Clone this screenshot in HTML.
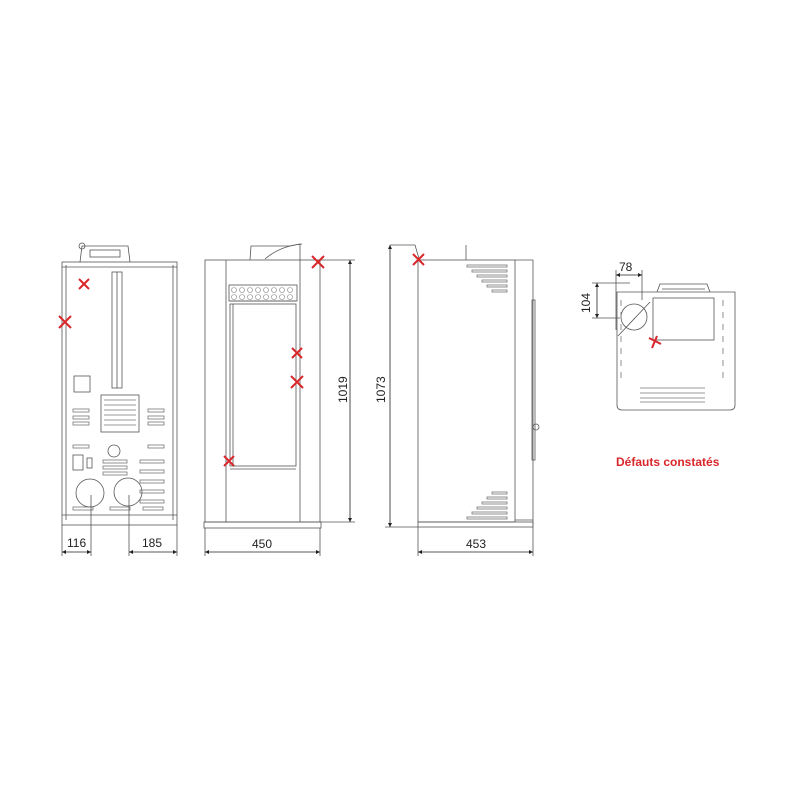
<!DOCTYPE html>
<html><head><meta charset="utf-8"><style>
html,body{margin:0;padding:0;background:#fff;width:800px;height:800px;overflow:hidden}
svg{display:block}
text{font-family:"Liberation Sans",sans-serif;fill:#222}
</style></head><body>
<svg width="800" height="800" viewBox="0 0 800 800" xmlns="http://www.w3.org/2000/svg">
<defs>
<marker id="a" viewBox="0 0 10 10" refX="10" refY="5" markerWidth="7" markerHeight="5" orient="auto-start-reverse"><path d="M0,0L10,5L0,10z" fill="#222"/></marker>
</defs>
<g stroke="#555" stroke-width="0.8" fill="none">
<rect x="62" y="262" width="115" height="263"/>
<line x1="66" y1="265" x2="66" y2="520"/><line x1="173" y1="265" x2="173" y2="520"/>
<line x1="62" y1="267" x2="177" y2="267"/>
<line x1="62" y1="515" x2="177" y2="515"/>
<path d="M80,262 L82,246 L128,246 L130,262"/><rect x="90" y="250" width="30" height="7"/>
<circle cx="82" cy="246" r="3"/>
<rect x="112" y="272" width="10" height="116"/><line x1="117" y1="272" x2="117" y2="388"/>
<rect x="74" y="376" width="16" height="16"/>
<rect x="101" y="395" width="38" height="37"/>
<g stroke="#777"><line x1="104" y1="400" x2="136" y2="400"/><line x1="104" y1="405" x2="136" y2="405"/><line x1="104" y1="410" x2="136" y2="410"/><line x1="104" y1="415" x2="136" y2="415"/><line x1="104" y1="420" x2="136" y2="420"/><line x1="104" y1="425" x2="136" y2="425"/>
<rect x="73" y="409" width="16" height="3"/><rect x="73" y="416" width="16" height="3"/><rect x="73" y="422" width="16" height="3"/>
<rect x="148" y="409" width="16" height="3"/><rect x="148" y="416" width="16" height="3"/><rect x="148" y="422" width="16" height="3"/>
<rect x="73" y="445" width="16" height="3"/><rect x="148" y="445" width="16" height="3"/>
<rect x="103" y="460" width="24" height="3"/><rect x="103" y="466" width="24" height="3"/><rect x="103" y="472" width="24" height="3"/>
<rect x="140" y="460" width="24" height="3"/><rect x="140" y="470" width="24" height="3"/><rect x="140" y="480" width="24" height="3"/><rect x="140" y="490" width="24" height="3"/><rect x="140" y="500" width="24" height="3"/>
<rect x="73" y="507" width="20" height="3"/><rect x="110" y="507" width="20" height="3"/><rect x="143" y="507" width="20" height="3"/>
</g>
<circle cx="114" cy="451" r="6"/>
<rect x="73" y="455" width="10" height="15"/><rect x="87" y="458" width="5" height="10"/>
<circle cx="90" cy="493" r="14"/><circle cx="128" cy="492" r="14"/>
<line x1="62" y1="525" x2="62" y2="556"/><line x1="91" y1="495" x2="91" y2="556"/>
<line x1="129" y1="495" x2="129" y2="556"/><line x1="177" y1="525" x2="177" y2="556"/>
<rect x="205" y="260" width="115" height="262"/>
<line x1="226" y1="260" x2="226" y2="522"/><line x1="300" y1="260" x2="300" y2="522"/>
<rect x="204" y="522" width="117" height="6"/>
<path d="M250,260 L251,246 L290,246 L300,244 L300,260"/><path d="M265,259 Q280,246 302,244"/>
<rect x="229" y="285" width="68" height="16"/>
<g stroke="#888" stroke-width="0.6">
<circle cx="234" cy="290" r="2.5"/><circle cx="242" cy="290" r="2.5"/><circle cx="250" cy="290" r="2.5"/><circle cx="258" cy="290" r="2.5"/><circle cx="266" cy="290" r="2.5"/><circle cx="274" cy="290" r="2.5"/><circle cx="282" cy="290" r="2.5"/><circle cx="290" cy="290" r="2.5"/>
<circle cx="234" cy="297" r="2.5"/><circle cx="242" cy="297" r="2.5"/><circle cx="250" cy="297" r="2.5"/><circle cx="258" cy="297" r="2.5"/><circle cx="266" cy="297" r="2.5"/><circle cx="274" cy="297" r="2.5"/><circle cx="282" cy="297" r="2.5"/><circle cx="290" cy="297" r="2.5"/>
</g>
<rect x="230" y="304" width="66" height="162"/><line x1="230" y1="301" x2="296" y2="301"/><line x1="233" y1="304" x2="233" y2="466"/>
<line x1="230" y1="469" x2="296" y2="469"/>
<line x1="320" y1="260" x2="355" y2="260"/><line x1="320" y1="522" x2="355" y2="522"/>
<line x1="205" y1="528" x2="205" y2="556"/><line x1="320" y1="528" x2="320" y2="556"/>
<rect x="418" y="260" width="97" height="262"/>
<line x1="515" y1="260" x2="533" y2="260"/><line x1="515" y1="520" x2="533" y2="520"/>
<line x1="533" y1="260" x2="533" y2="526"/>
<rect x="532" y="300" width="3" height="160"/><circle cx="536" cy="427" r="3"/>
<rect x="418" y="522" width="115" height="5"/>
<line x1="466" y1="245" x2="466" y2="260"/>
<path d="M390,245 L415,245 L420,262"/>
<g stroke="#777"><rect x="467" y="265" width="40" height="2"/><rect x="472" y="270" width="35" height="2"/><rect x="477" y="275" width="30" height="2"/><rect x="482" y="280" width="25" height="2"/><rect x="487" y="285" width="20" height="2"/><rect x="492" y="290" width="15" height="2"/>
<rect x="492" y="492" width="15" height="2"/><rect x="487" y="497" width="20" height="2"/><rect x="482" y="502" width="25" height="2"/><rect x="477" y="507" width="30" height="2"/><rect x="472" y="512" width="35" height="2"/><rect x="467" y="517" width="40" height="2"/></g>
<line x1="385" y1="527" x2="418" y2="527"/>
<line x1="418" y1="527" x2="418" y2="556"/><line x1="533" y1="527" x2="533" y2="556"/>
<path d="M617,292 L735,292 L735,405 Q735,410 730,410 L622,410 Q617,410 617,405 Z"/>
<path d="M657,292 L660,284 L707,284 L710,292"/><line x1="662" y1="289" x2="705" y2="289"/>
<rect x="653" y="298" width="61" height="42"/>
<circle cx="634" cy="317" r="13"/>
<line x1="618" y1="336" x2="650" y2="302"/>
<g stroke="#777"><line x1="640" y1="388" x2="705" y2="388"/><line x1="640" y1="393" x2="705" y2="393"/><line x1="640" y1="398" x2="705" y2="398"/><line x1="640" y1="402" x2="705" y2="402"/>
<line x1="621" y1="300" x2="621" y2="380" stroke-dasharray="6 6"/><line x1="723" y1="300" x2="723" y2="380" stroke-dasharray="6 6"/></g>
<line x1="616" y1="270" x2="616" y2="330"/><line x1="642" y1="270" x2="642" y2="300"/>
<line x1="592" y1="283" x2="630" y2="283"/><line x1="592" y1="318" x2="620" y2="318"/>
</g>
<g stroke="#222" stroke-width="0.8" marker-start="url(#a)" marker-end="url(#a)">
<line x1="62" y1="552" x2="91" y2="552"/><line x1="129" y1="552" x2="177" y2="552"/>
<line x1="205" y1="552" x2="320" y2="552"/><line x1="418" y1="552" x2="533" y2="552"/>
<line x1="350" y1="260" x2="350" y2="522"/><line x1="390" y1="245" x2="390" y2="527"/>
<line x1="616" y1="275" x2="642" y2="275"/><line x1="597" y1="283" x2="597" y2="318"/>
</g>
<g font-size="12">
<text x="67" y="547">116</text><text x="142" y="547">185</text>
<text x="252" y="548">450</text><text x="466" y="548">453</text>
<text x="619" y="271">78</text>
<text transform="translate(347,403) rotate(-90)">1019</text>
<text transform="translate(385,403) rotate(-90)">1073</text>
<text transform="translate(590,313) rotate(-90)">104</text>
</g>
<text x="616" y="466" font-size="12" font-weight="bold" style="fill:#d8262a">Défauts constatés</text>
<g stroke="#d8262a" stroke-width="2">
<path d="M79,279l10,10M89,279l-10,10"/><path d="M59,316l12,12M71,316l-12,12"/>
<path d="M312,256l12,12M324,256l-12,12"/><path d="M292,348l10,10M302,348l-10,10"/>
<path d="M291,376l12,12M303,376l-12,12"/><path d="M224,456l10,10M234,456l-10,10"/>
<path d="M413,254l11,11M424,254l-11,11"/><path d="M649,338l12,6M657,336l-5,12"/>
</g>
</svg>
</body></html>
